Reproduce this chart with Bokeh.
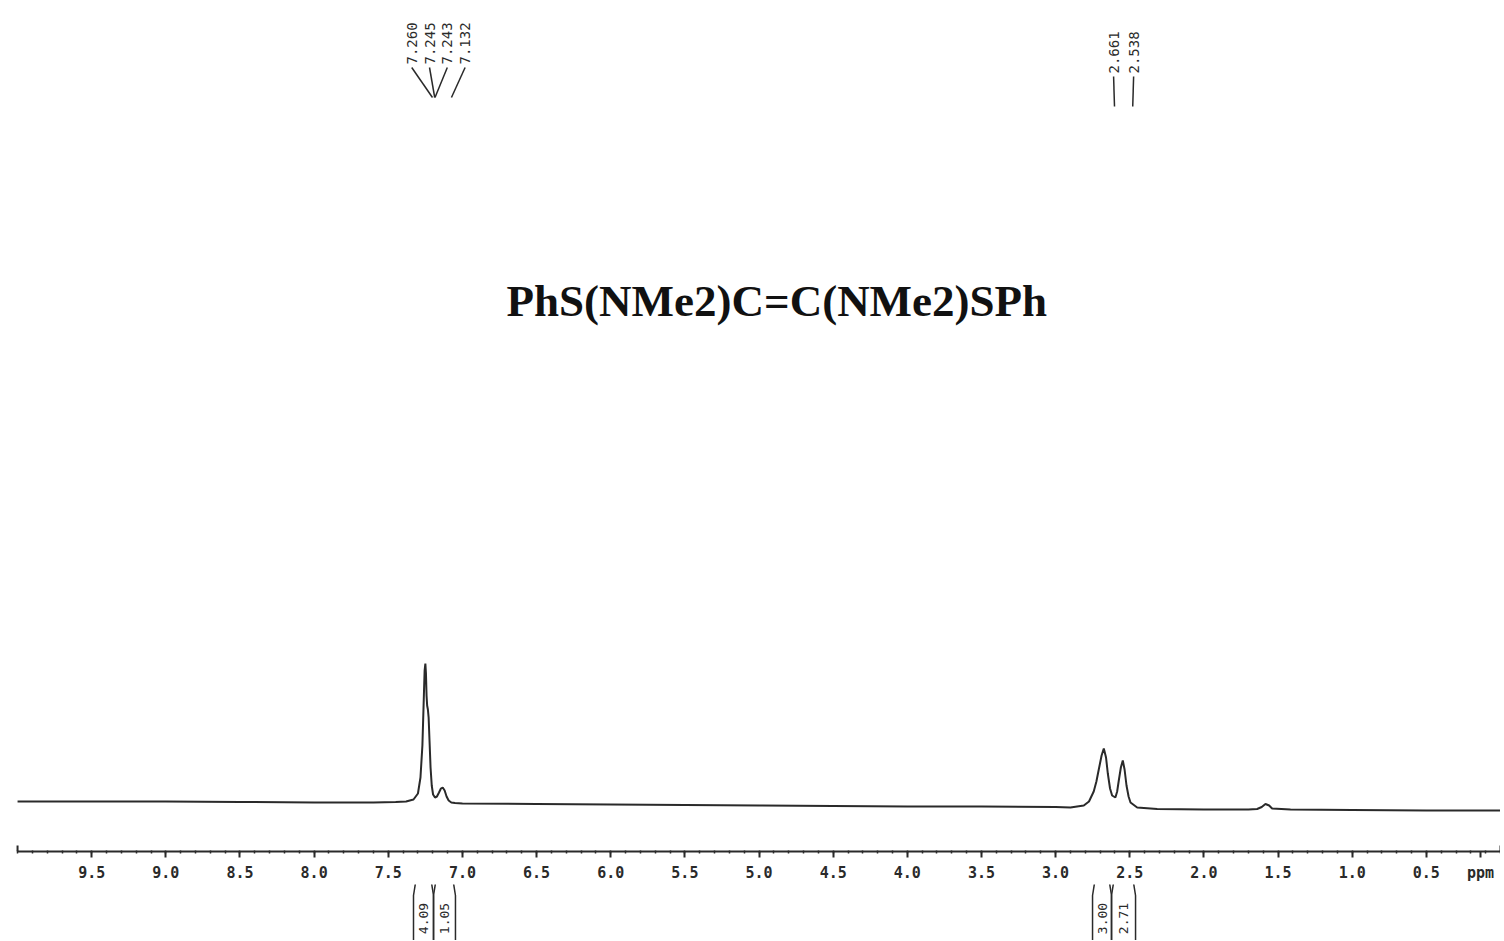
import math
from bokeh.plotting import figure
from bokeh.layouts import column
from bokeh.models import Range1d, FixedTicker, PrintfTickFormatter
from bokeh.core.properties import value
from bokeh.embed import file_html
from bokeh.resources import INLINE

# ---------------- data ----------------
title_text = "PhS(NMe2)C=C(NMe2)SPh"

shift_ppm = [10.0, 9.5, 9.0, 8.5, 8.0, 7.6, 7.45, 7.38, 7.33, 7.30, 7.283, 7.27,
             7.26, 7.255, 7.25, 7.246, 7.242, 7.238, 7.233, 7.228, 7.222, 7.215,
             7.207, 7.198, 7.185, 7.172, 7.158, 7.145, 7.133, 7.12, 7.107, 7.093,
             7.075, 7.05, 7.0, 6.5, 6.0, 5.5, 5.0, 4.5, 4.0, 3.5, 3.0, 2.90, 2.81,
             2.775, 2.743, 2.725, 2.709, 2.69, 2.675, 2.66, 2.648, 2.633, 2.619,
             2.597, 2.585, 2.574, 2.56, 2.547, 2.535, 2.522, 2.508, 2.495, 2.45,
             2.315, 2.0, 1.7, 1.641, 1.61, 1.585, 1.56, 1.54, 1.416, 1.0, 0.5, 0.0]
intensity = [4, 4, 4, 3.5, 3, 3, 3.5, 4, 6, 12, 28, 60,
             110, 135, 142, 132, 110, 100, 96, 88, 65, 38,
             20, 11, 8, 9, 13, 17, 18, 15, 9, 5,
             3, 2.5, 2, 1.5, 1, 0.5, 0, -0.5, -1, -1, -1.5, -2, 0,
             4, 14, 24, 36, 50, 57, 48, 32, 17, 10,
             8, 14, 25, 38, 45, 36, 20, 9, 3, -2,
             -3.5, -4, -4, -3.5, -1.5, 1.5, 0, -3, -4, -4.5, -5, -5]

peak_groups = [["7.260", "7.245", "7.243", "7.132"], ["2.661", "2.538"]]

integral_labels = ["4.09", "1.05", "3.00", "2.71"]
integral_from = [7.33, 7.195, 2.751, 2.623]
integral_to = [7.195, 7.047, 2.623, 2.461]

major_ticks = [0.5, 1.0, 1.5, 2.0, 2.5, 3.0, 3.5, 4.0, 4.5, 5.0, 5.5, 6.0, 6.5,
               7.0, 7.5, 8.0, 8.5, 9.0, 9.5]
unit_tick = 0.135
unit_text = "ppm"
axis_ends = [10.0, 0.0]

# ---------------- layout / style constants ----------------
INK = "#2a2a2a"
MONO = "DejaVu Sans Mono"
label_offset_ppm = -0.058
group_spacing = [0.12, 0.135]
group_text_y = [741, 732]

p = figure(width=1500, height=884, x_range=Range1d(10.115, 0.0),
           y_range=Range1d(-46, 805), output_backend="svg",
           toolbar_location=None, y_axis_location=None,
           min_border_left=0, min_border_right=0, min_border_top=0,
           min_border_bottom=33, outline_line_color=None)
p.grid.visible = False
p.background_fill_color = "white"

ax = p.xaxis[0]
ax.ticker = FixedTicker(ticks=major_ticks + [unit_tick],
                        minor_ticks=[round(0.1 * i, 1) for i in range(0, 101)])
ax.formatter = PrintfTickFormatter(format="%.1f")
ax.major_label_overrides = {unit_tick: unit_text}
ax.bounds = (0, 10)
ax.axis_line_width = 2
ax.axis_line_color = INK
ax.major_tick_line_color = INK
ax.major_tick_line_width = 2
ax.major_tick_out = 6
ax.major_tick_in = 0
ax.minor_tick_line_color = INK
ax.minor_tick_line_width = 1.5
ax.minor_tick_out = 2
ax.minor_tick_in = 1
ax.major_label_standoff = 6
ax.major_label_text_font = MONO
ax.major_label_text_font_style = "bold"
ax.major_label_text_font_size = "15px"
ax.major_label_text_color = INK

# upward end ticks of the axis
p.segment(x0=axis_ends, y0=[-46, -46], x1=axis_ends, y1=[-40, -40],
          line_color=INK, line_width=2)

# spectrum
p.line(shift_ppm, intensity, line_color=INK, line_width=2)

# title
p.text(x=[4.88], y=[505], text=[title_text], text_align="center",
       text_baseline="middle", text_font=value("Liberation Serif"),
       text_font_style="bold", text_font_size="45px", text_color="#111111")

# peak labels with leader lines
for gi, grp in enumerate(peak_groups):
    vals = [float(s) for s in grp]
    n = len(vals)
    centre = sum(vals) / n + label_offset_ppm
    lx = [centre + ((n - 1) / 2 - i) * group_spacing[gi] for i in range(n)]
    ty = group_text_y[gi]
    p.text(x=lx, y=[ty] * n, text=grp, angle=math.pi / 2, text_align="left",
           text_baseline="middle", text_font=value(MONO),
           text_font_size="14px", text_color=INK)
    p.segment(x0=lx, y0=[ty - 3] * n,
              x1=[v + label_offset_ppm for v in vals], y1=[ty - 33] * n,
              line_color=INK, line_width=1.5)

# ---------------- integral strip ----------------
q = figure(width=1500, height=56, x_range=p.x_range, y_range=Range1d(0, 56),
           output_backend="svg", toolbar_location=None,
           x_axis_location=None, y_axis_location=None,
           min_border_left=0, min_border_right=0, min_border_top=0,
           min_border_bottom=0, outline_line_color=None)
q.grid.visible = False

xs, ys = [], []
for a, b in zip(integral_from, integral_to):
    xs.append([a - 0.014, a, a])
    ys.append([58, 45, -5])
    xs.append([b + 0.014, b, b])
    ys.append([58, 45, -5])
q.multi_line(xs, ys, line_color=INK, line_width=1.5)
mids = [(a + b) / 2 for a, b in zip(integral_from, integral_to)]
q.text(x=mids, y=[22] * len(mids), text=integral_labels, angle=math.pi / 2,
       text_align="center", text_baseline="middle", text_font=value(MONO),
       text_font_size="13px", text_color=INK)

layout = column(p, q, spacing=0)
open("out.html", "w").write(file_html(layout, INLINE))
